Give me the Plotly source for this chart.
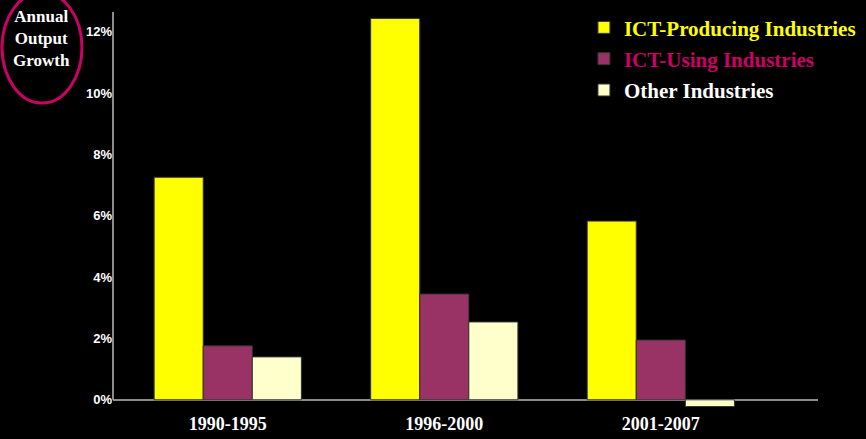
import plotly.graph_objects as go

periods = ["1990-1995", "1996-2000", "2001-2007"]
ict_producing = [7.26, 12.44, 5.83]
ict_using = [1.76, 3.45, 1.95]
other = [1.40, 2.54, -0.22]

series_names = ["ICT-Producing Industries", "ICT-Using Industries", "Other Industries"]
bar_colors = ["#FFFF00", "#993366", "#FFFFCC"]
legend_text_colors = ["#FFFF00", "#CC0066", "#FFFFFF"]
y_tickvals = [0, 2, 4, 6, 8, 10, 12]
y_ticktext = ["0%", "2%", "4%", "6%", "8%", "10%", "12%"]

fig = go.Figure()
for i, (name, vals) in enumerate(zip(series_names, [ict_producing, ict_using, other])):
    fig.add_trace(go.Bar(
        x=periods, y=vals,
        name=f"<span style='color:{legend_text_colors[i]}'>{name}</span>",
        legendgroup=f"g{i}",
        marker=dict(color=bar_colors[i], line=dict(color="#333333", width=1)),
    ))

fig.update_layout(
    width=866, height=439,
    margin=dict(l=113, r=48, t=12, b=30, autoexpand=False),
    paper_bgcolor="black", plot_bgcolor="black",
    barmode="group", bargap=0.32, bargroupgap=0,
    showlegend=True,
    legend=dict(
        x=0.668, y=1.012, xanchor="left", yanchor="top",
        bgcolor="rgba(0,0,0,0)",
        font=dict(family="Liberation Serif", size=21, color="white", weight="bold"),
        tracegroupgap=1, traceorder="grouped",
    ),
    xaxis=dict(
        range=[-0.53, 2.726], showgrid=False, showline=False, zeroline=False,
        tickfont=dict(family="Liberation Serif", size=18, color="white", weight="bold"),
        ticks="", ticklabelstandoff=2, automargin=False,
    ),
    yaxis=dict(
        range=[-0.3, 12.65], showgrid=False, showline=False,
        zeroline=True, zerolinecolor="#8C8C8C", zerolinewidth=2,
        tickvals=y_tickvals, ticktext=y_ticktext, ticks="", automargin=False,
        tickfont=dict(family="Liberation Sans", size=13, color="white", weight="bold"),
    ),
    shapes=[
        dict(type="line", xref="paper", yref="y", x0=0, x1=0, y0=0, y1=12.65,
             line=dict(color="#BBBBBB", width=1.5)),
        dict(type="circle", xref="paper", yref="paper",
             x0=-0.1574, x1=-0.044, y0=0.7708, y1=1.05,
             line=dict(color="#CC0066", width=3)),
    ],
    annotations=[
        dict(text="Annual<br>Output<br>Growth", xref="paper", yref="paper",
             x=-0.102, y=0.932, showarrow=False, xanchor="center", yanchor="middle",
             font=dict(family="Liberation Serif", size=17, color="white", weight="bold")),
    ],
)

fig.write_html("out.html", config={"displayModeBar": False},
               post_script="document.body.style.margin='0';document.body.style.overflow='hidden';")
